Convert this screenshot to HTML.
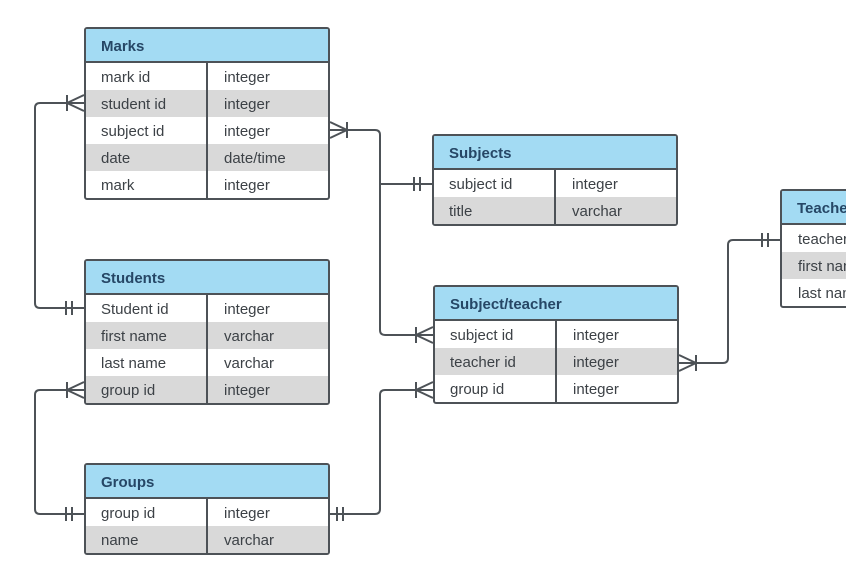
<!DOCTYPE html>
<html><head><meta charset="utf-8"><style>
body{margin:0;width:846px;height:577px;background:#fff;overflow:hidden;position:relative;font-family:"Liberation Sans",sans-serif}
.t{position:absolute;border:2px solid #4d5257;border-radius:3px;background:#fff;box-sizing:border-box;overflow:hidden}
.h{height:34px;background:#a3dbf3;border-bottom:2px solid #4d5257;box-sizing:border-box;color:#264766;font-weight:bold;font-size:15px;line-height:35px;padding-left:15px}
.r{height:27px;display:flex;font-size:15px;line-height:29px;color:#3c4146}
.r.g{background:#d9d9d9}
.r div:first-child{width:122px;padding-left:15px;border-right:2px solid #4d5257;box-sizing:border-box}
.r div:last-child{padding-left:16px}
svg{position:absolute;left:0;top:0}
</style></head><body>
<div class="t" style="left:84px;top:27px;width:246px"><div class="h">Marks</div>
<div class="r"><div>mark id</div><div>integer</div></div>
<div class="r g"><div>student id</div><div>integer</div></div>
<div class="r"><div>subject id</div><div>integer</div></div>
<div class="r g"><div>date</div><div>date/time</div></div>
<div class="r"><div>mark</div><div>integer</div></div></div>

<div class="t" style="left:84px;top:259px;width:246px"><div class="h">Students</div>
<div class="r"><div>Student id</div><div>integer</div></div>
<div class="r g"><div>first name</div><div>varchar</div></div>
<div class="r"><div>last name</div><div>varchar</div></div>
<div class="r g"><div>group id</div><div>integer</div></div></div>

<div class="t" style="left:84px;top:463px;width:246px"><div class="h">Groups</div>
<div class="r"><div>group id</div><div>integer</div></div>
<div class="r g"><div>name</div><div>varchar</div></div></div>

<div class="t" style="left:432px;top:134px;width:246px"><div class="h">Subjects</div>
<div class="r"><div>subject id</div><div>integer</div></div>
<div class="r g"><div>title</div><div>varchar</div></div></div>

<div class="t" style="left:433px;top:285px;width:246px"><div class="h">Subject/teacher</div>
<div class="r"><div>subject id</div><div>integer</div></div>
<div class="r g"><div>teacher id</div><div>integer</div></div>
<div class="r"><div>group id</div><div>integer</div></div></div>

<div class="t" style="left:780px;top:189px;width:100px"><div class="h">Teachers</div>
<div class="r"><div style="width:auto;border:none">teacher id</div></div>
<div class="r g"><div style="width:auto;border:none">first name</div></div>
<div class="r"><div style="width:auto;border:none">last name</div></div></div>

<svg width="846" height="577" fill="none" stroke="#4d5257" stroke-width="2">
<path d="M84 103 H40 Q35 103 35 108 V303 Q35 308 40 308 H84"/>
<path d="M67 95 V111 M67 103 L84 95 M67 103 L84 111"/>
<path d="M66 301 V315 M72 301 V315"/>
<path d="M330 130 H375 Q380 130 380 135 V330 Q380 335 385 335 H433"/>
<path d="M380 184 H432"/>
<path d="M347 122 V138 M347 130 L330 122 M347 130 L330 138"/>
<path d="M414 177 V191 M420 177 V191"/>
<path d="M416 327 V343 M416 335 L433 327 M416 335 L433 343"/>
<path d="M84 390 H40 Q35 390 35 395 V509 Q35 514 40 514 H84"/>
<path d="M67 382 V398 M67 390 L84 382 M67 390 L84 398"/>
<path d="M66 507 V521 M72 507 V521"/>
<path d="M330 514 H375 Q380 514 380 509 V395 Q380 390 385 390 H433"/>
<path d="M337 507 V521 M343 507 V521"/>
<path d="M416 382 V398 M416 390 L433 382 M416 390 L433 398"/>
<path d="M679 363 H723 Q728 363 728 358 V245 Q728 240 733 240 H780"/>
<path d="M696 355 V371 M696 363 L679 355 M696 363 L679 371"/>
<path d="M762 233 V247 M768 233 V247"/>
</svg>
</body></html>
